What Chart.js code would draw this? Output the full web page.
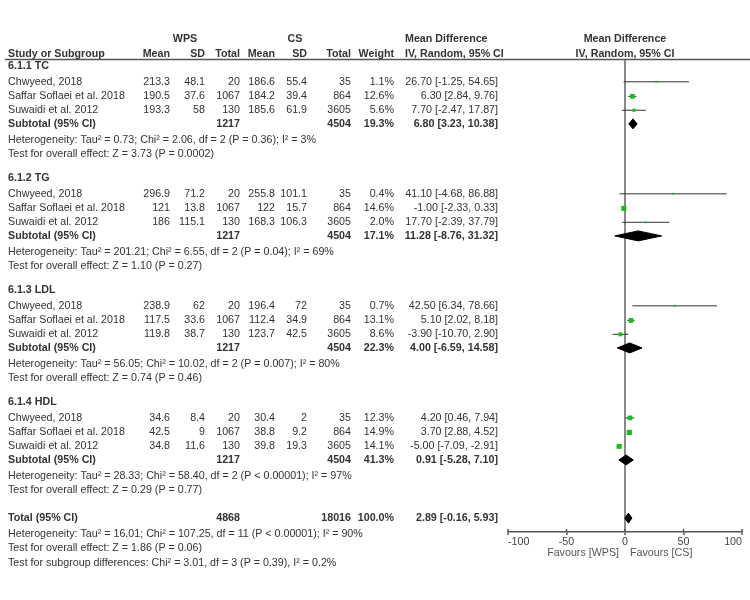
<!DOCTYPE html>
<html>
<head>
<meta charset="utf-8">
<title>Forest plot - WPS vs CS lipids</title>
<script src="https://cdn.jsdelivr.net/npm/chart.js@4.4.1/dist/chart.umd.min.js"></script>
<style>
  html, body { margin: 0; padding: 0; background: #fff; }
  #wrap { width: 750px; height: 600px; }
</style>
</head>
<body>
<div id="wrap"><canvas id="forest" width="750" height="600"></canvas></div>
<script>
// === Data ===
const groupLabels = ['6.1.1 TC', '6.1.2 TG', '6.1.3 LDL', '6.1.4 HDL'];
const studyNames = ['Chwyeed, 2018', 'Saffar Soflaei et al. 2018', 'Suwaidi et al. 2012'];

// one entry per study row: 3 studies per group, groups in order
const wpsMean = [213.3, 190.5, 193.3, 296.9, 121, 186, 238.9, 117.5, 119.8, 34.6, 42.5, 34.8];
const wpsSD = [48.1, 37.6, 58, 71.2, 13.8, 115.1, 62, 33.6, 38.7, 8.4, 9, 11.6];
const wpsTotal = [20, 1067, 130, 20, 1067, 130, 20, 1067, 130, 20, 1067, 130];
const csMean = [186.6, 184.2, 185.6, 255.8, 122, 168.3, 196.4, 112.4, 123.7, 30.4, 38.8, 39.8];
const csSD = [55.4, 39.4, 61.9, 101.1, 15.7, 106.3, 72, 34.9, 42.5, 2, 9.2, 19.3];
const csTotal = [35, 864, 3605, 35, 864, 3605, 35, 864, 3605, 35, 864, 3605];
const weights = [1.1, 12.6, 5.6, 0.4, 14.6, 2.0, 0.7, 13.1, 8.6, 12.3, 14.9, 14.1];
const meanDiff = [26.70, 6.30, 7.70, 41.10, -1.00, 17.70, 42.50, 5.10, -3.90, 4.20, 3.70, -5.00];
const ciLow = [-1.25, 2.84, -2.47, -4.68, -2.33, -2.39, 6.34, 2.02, -10.70, 0.46, 2.88, -7.09];
const ciHigh = [54.65, 9.76, 17.87, 86.88, 0.33, 37.79, 78.66, 8.18, 2.90, 7.94, 4.52, -2.91];

// subtotals, one per group
const subWpsTotal = [1217, 1217, 1217, 1217];
const subCsTotal = [4504, 4504, 4504, 4504];
const subWeight = [19.3, 17.1, 22.3, 41.3];
const subMD = [6.80, 11.28, 4.00, 0.91];
const subLow = [3.23, -8.76, -6.59, -5.28];
const subHigh = [10.38, 31.32, 14.58, 7.10];
const subHetero = [
  'Heterogeneity: Tau\u00b2 = 0.73; Chi\u00b2 = 2.06, df = 2 (P = 0.36); I\u00b2 = 3%',
  'Heterogeneity: Tau\u00b2 = 201.21; Chi\u00b2 = 6.55, df = 2 (P = 0.04); I\u00b2 = 69%',
  'Heterogeneity: Tau\u00b2 = 56.05; Chi\u00b2 = 10.02, df = 2 (P = 0.007); I\u00b2 = 80%',
  'Heterogeneity: Tau\u00b2 = 28.33; Chi\u00b2 = 58.40, df = 2 (P < 0.00001); I\u00b2 = 97%'
];
const subEffect = [
  'Test for overall effect: Z = 3.73 (P = 0.0002)',
  'Test for overall effect: Z = 1.10 (P = 0.27)',
  'Test for overall effect: Z = 0.74 (P = 0.46)',
  'Test for overall effect: Z = 0.29 (P = 0.77)'
];

// overall pooled row
const totalWps = 4868;
const totalCs = 18016;
const totalWeight = 100.0;
const totalMD = 2.89;
const totalLow = -0.16;
const totalHigh = 5.93;
const totalNotes = [
  'Heterogeneity: Tau\u00b2 = 16.01; Chi\u00b2 = 107.25, df = 11 (P < 0.00001); I\u00b2 = 90%',
  'Test for overall effect: Z = 1.86 (P = 0.06)',
  'Test for subgroup differences: Chi\u00b2 = 3.01, df = 3 (P = 0.39), I\u00b2 = 0.2%'
];

const xTicks = [-100, -50, 0, 50, 100];
const favourLabels = ['Favours [WPS]', 'Favours [CS]'];

// === Layout (row positions in "line" units of the y scale) ===
const ROW0 = 0.42, GROUP_STEP = 8.07;
const STUDY_OFF = [1.15, 2.2, 3.2];
const SUB_OFF = 4.18, HET_OFF = 5.37, Z_OFF = 6.38;
const TOTAL_ROW = 33.0;
const TOTAL_NOTE_ROWS = [34.17, 35.18, 36.22];
const HEAD_ROWS = [-1.49, -0.43];
const DIAMOND_H = 0.36;

const COL = { name: 8, wpsMean: 170, wpsSD: 205, wpsN: 240, csMean: 275, csSD: 307, csN: 351, weight: 394, md: 498 };
const FONT = '"Liberation Sans", Arial, sans-serif';
const FS = 10.7;
const TEXT = '#333';
const GREEN = '#22b822';

const groupRow = g => ROW0 + g * GROUP_STEP;
const studyRow = i => groupRow(Math.floor(i / 3)) + STUDY_OFF[i % 3];
const subRow = g => groupRow(g) + SUB_OFF;
const ciText = (m, l, h) => `${m.toFixed(2)} [${l.toFixed(2)}, ${h.toFixed(2)}]`;

// === Datasets ===
const datasets = [];

// study squares (size by weight)
datasets.push({
  type: 'scatter',
  order: 0,
  data: meanDiff.map((m, i) => ({ x: m, y: studyRow(i) })),
  pointStyle: 'rect',
  pointRadius: weights.map(w => Math.max(1.3, 0.95 * Math.sqrt(w))),
  backgroundColor: GREEN,
  borderWidth: 0
});

// confidence interval whiskers
meanDiff.forEach((m, i) => {
  datasets.push({
    type: 'line',
    order: 2,
    data: [{ x: ciLow[i], y: studyRow(i) }, { x: ciHigh[i], y: studyRow(i) }],
    borderColor: '#333',
    borderWidth: 1,
    pointRadius: 0,
    fill: false
  });
});

// pooled diamonds
function diamond(m, l, h, row) {
  return {
    type: 'line',
    order: 1,
    data: [
      { x: l, y: row }, { x: m, y: row - DIAMOND_H },
      { x: h, y: row }, { x: m, y: row + DIAMOND_H }, { x: l, y: row }
    ],
    borderColor: '#000',
    backgroundColor: '#000',
    borderWidth: 1,
    pointRadius: 0,
    tension: 0,
    fill: 'shape'
  };
}
subMD.forEach((m, g) => datasets.push(diamond(m, subLow[g], subHigh[g], subRow(g))));
datasets.push(diamond(totalMD, totalLow, totalHigh, TOTAL_ROW));

// === Table text plugin ===
const forestTable = {
  id: 'forestTable',
  afterDraw(chart) {
    const { ctx, chartArea, scales: { x, y } } = chart;
    const py = row => y.getPixelForValue(row);

    function text(str, xPos, row, align = 'right', bold = false, color = TEXT) {
      ctx.font = `${bold ? 'bold ' : ''}${FS}px ${FONT}`;
      ctx.fillStyle = color;
      ctx.textAlign = align;
      ctx.textBaseline = 'middle';
      ctx.fillText(str, xPos, py(row));
    }

    ctx.save();

    // header rule
    ctx.strokeStyle = '#555';
    ctx.lineWidth = 1.5;
    ctx.beginPath();
    ctx.moveTo(5, chartArea.top - 0.5);
    ctx.lineTo(750, chartArea.top - 0.5);
    ctx.stroke();

    // column headers
    const [h1, h2] = HEAD_ROWS;
    text('WPS', 185, h1, 'center', true);
    text('CS', 295, h1, 'center', true);
    text('Mean Difference', 405, h1, 'left', true);
    text('Mean Difference', (chartArea.left + chartArea.right) / 2, h1, 'center', true);
    text('Study or Subgroup', COL.name, h2, 'left', true);
    text('Mean', COL.wpsMean, h2, 'right', true);
    text('SD', COL.wpsSD, h2, 'right', true);
    text('Total', COL.wpsN, h2, 'right', true);
    text('Mean', COL.csMean, h2, 'right', true);
    text('SD', COL.csSD, h2, 'right', true);
    text('Total', COL.csN, h2, 'right', true);
    text('Weight', COL.weight, h2, 'right', true);
    text('IV, Random, 95% CI', 405, h2, 'left', true);
    text('IV, Random, 95% CI', (chartArea.left + chartArea.right) / 2, h2, 'center', true);

    // groups
    groupLabels.forEach((label, g) => {
      text(label, COL.name, groupRow(g), 'left', true);
      for (let k = 0; k < 3; k++) {
        const i = g * 3 + k;
        const r = studyRow(i);
        text(studyNames[k], COL.name, r, 'left');
        text(String(wpsMean[i]), COL.wpsMean, r);
        text(String(wpsSD[i]), COL.wpsSD, r);
        text(String(wpsTotal[i]), COL.wpsN, r);
        text(String(csMean[i]), COL.csMean, r);
        text(String(csSD[i]), COL.csSD, r);
        text(String(csTotal[i]), COL.csN, r);
        text(weights[i].toFixed(1) + '%', COL.weight, r);
        text(ciText(meanDiff[i], ciLow[i], ciHigh[i]), COL.md, r);
      }
      const sr = subRow(g);
      text('Subtotal (95% CI)', COL.name, sr, 'left', true);
      text(String(subWpsTotal[g]), COL.wpsN, sr, 'right', true);
      text(String(subCsTotal[g]), COL.csN, sr, 'right', true);
      text(subWeight[g].toFixed(1) + '%', COL.weight, sr, 'right', true);
      text(ciText(subMD[g], subLow[g], subHigh[g]), COL.md, sr, 'right', true);
      text(subHetero[g], COL.name, groupRow(g) + HET_OFF, 'left');
      text(subEffect[g], COL.name, groupRow(g) + Z_OFF, 'left');
    });

    // overall
    text('Total (95% CI)', COL.name, TOTAL_ROW, 'left', true);
    text(String(totalWps), COL.wpsN, TOTAL_ROW, 'right', true);
    text(String(totalCs), COL.csN, TOTAL_ROW, 'right', true);
    text(totalWeight.toFixed(1) + '%', COL.weight, TOTAL_ROW, 'right', true);
    text(ciText(totalMD, totalLow, totalHigh), COL.md, TOTAL_ROW, 'right', true);
    totalNotes.forEach((note, k) => text(note, COL.name, TOTAL_NOTE_ROWS[k], 'left'));

    // small upward tick marks on the axis
    ctx.strokeStyle = '#555';
    ctx.lineWidth = 1.5;
    x.ticks.forEach(t => {
      const px = x.getPixelForValue(t.value);
      ctx.beginPath();
      ctx.moveTo(px, chartArea.bottom - 3);
      ctx.lineTo(px, chartArea.bottom);
      ctx.stroke();
    });

    // favours labels
    const x0 = x.getPixelForValue(0);
    const fy = chartArea.bottom + 21;
    ctx.font = `${FS}px ${FONT}`;
    ctx.fillStyle = '#555';
    ctx.textBaseline = 'middle';
    ctx.textAlign = 'right';
    ctx.fillText(favourLabels[0], x0 - 6, fy);
    ctx.textAlign = 'left';
    ctx.fillText(favourLabels[1], x0 + 5, fy);

    ctx.restore();
  }
};

new Chart(document.getElementById('forest'), {
  type: 'scatter',
  data: { datasets },
  options: {
    responsive: false,
    animation: false,
    events: [],
    layout: { padding: { left: 508, right: 8, top: 60, bottom: 46 } },
    plugins: { legend: { display: false }, tooltip: { enabled: false } },
    scales: {
      x: {
        type: 'linear',
        min: -100,
        max: 100,
        afterBuildTicks: scale => { scale.ticks = xTicks.map(v => ({ value: v })); },
        afterFit: scale => { scale.height = 22; },
        ticks: {
          align: 'inner',
          maxRotation: 0,
          padding: 1,
          color: '#444',
          font: { family: FONT, size: FS }
        },
        grid: {
          drawOnChartArea: true,
          color: c => (c.tick && c.tick.value === 0 ? '#8a8a8a' : 'rgba(0,0,0,0)'),
          lineWidth: 2,
          tickColor: '#555',
          tickWidth: 1.5,
          tickLength: 3
        },
        border: { display: true, color: '#555', width: 1.5 }
      },
      y: {
        type: 'linear',
        reverse: true,
        min: 0,
        max: 34,
        display: false
      }
    }
  },
  plugins: [forestTable]
});
</script>
</body>
</html>
